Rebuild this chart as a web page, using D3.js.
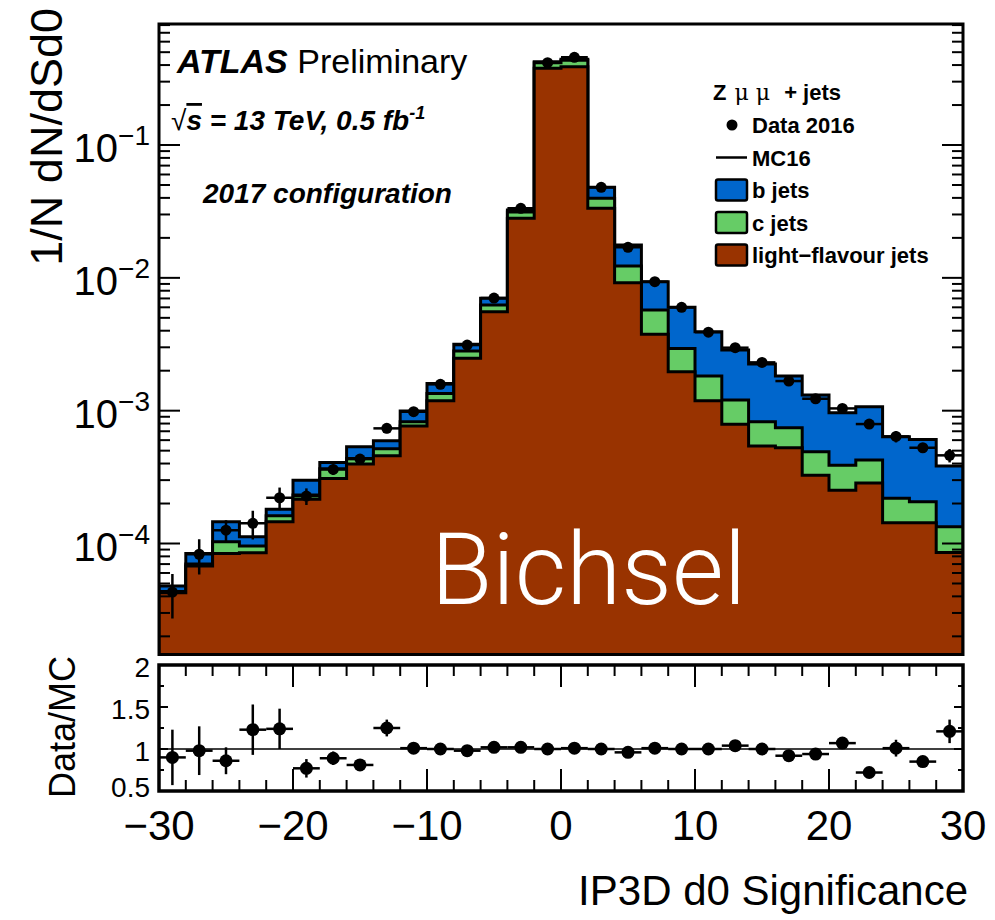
<!DOCTYPE html>
<html><head><meta charset="utf-8">
<script src="https://cdn.jsdelivr.net/npm/d3@7"></script>
<style>
body{margin:0;background:#fff}
svg{display:block}
text{font-family:"Liberation Sans",Arial,Helvetica,sans-serif;fill:#000}
</style>
</head><body>
<svg id="c" width="995" height="920"></svg>
<script>
// ---- data ----
const binLow = [-30,-28,-26,-24,-22,-20,-18,-16,-14,-12,-10,-8,-6,-4,-2,0,2,4,6,8,10,12,14,16,18,20,22,24,26,28];
const binWidth = 2;
const lightJets = [4.25e-5,6.76e-5,8.42e-5,8.51e-5,1.457e-4,2.15e-4,3.09e-4,3.96e-4,4.57e-4,7.66e-4,
  1.188e-3,2.477e-3,5.56e-3,2.81e-2,0.378,0.3887,3.34e-2,9.19e-3,3.77e-3,1.963e-3,
  1.188e-3,7.89e-4,5.41e-4,5.26e-4,3.27e-4,2.52e-4,2.86e-4,1.432e-4,1.432e-4,8.57e-5];
const cJets = [1.0e-6,2.4e-6,1.88e-5,1.05e-5,1.6e-5,1.64e-5,5.6e-5,4.1e-5,6.0e-5,5.9e-5,
  1.61e-4,3.33e-4,6.8e-4,3.2e-3,3.87e-2,4.68e-2,6.3e-3,3.08e-3,1.95e-3,9.77e-4,
  6.34e-4,4.13e-4,2.84e-4,2.17e-4,1.63e-4,1.37e-4,1.39e-4,7.58e-5,6.28e-5,4.79e-5];
const bJets = [4.3e-6,1.42e-5,4.26e-5,1.67e-5,1.9e-5,6.86e-5,4.3e-5,9.8e-5,7.6e-5,1.68e-4,
  2.55e-4,3.47e-4,7.7e-4,1.1e-3,6.9e-3,6.3e-3,8.3e-3,5.39e-3,3.63e-3,3.06e-3,
  2.108e-3,1.658e-3,1.42e-3,1.079e-3,8.21e-4,5.75e-4,6.45e-4,4.17e-4,4.02e-4,2.494e-4];
const data2016 = [4.31e-5,8.3e-5,1.26e-4,1.42e-4,2.21e-4,2.275e-4,3.61e-4,4.32e-4,7.36e-4,9.82e-4,
  1.578e-3,3.12e-3,7.05e-3,3.34e-2,0.4167,0.4575,4.8e-2,1.697e-2,9.35e-3,6.0e-3,
  3.9e-3,2.98e-3,2.31e-3,1.671e-3,1.23e-3,1.04e-3,7.93e-4,6.4e-4,5.26e-4,4.61e-4];
const ratioVals = [0.90,0.98,0.86,1.23,1.24,0.77,0.89,0.81,1.25,1.01,
  1.00,0.98,1.02,1.02,1.00,1.01,1.00,0.96,1.01,1.00,
  1.00,1.04,1.00,0.92,0.94,1.07,0.72,1.01,0.85,1.21];
const ratioErr = [0.33,0.29,0.16,0.30,0.24,0.11,0.08,0.06,0.10,0.05,
  0.04,0.03,0.02,0.02,0.02,0.02,0.02,0.02,0.02,0.02,
  0.03,0.06,0.03,0.03,0.03,0.06,0.05,0.10,0.06,0.14];
const xTickLabels = [-30,-20,-10,0,10,20,30];
const yDecadeLabels = [-1,-2,-3,-4];
const ratioTickLabels = ["0.5","1","1.5","2"];
const legendTitle = "Z";
const legendEntries = [
  {label:"Data 2016", kind:"marker"},
  {label:"MC16", kind:"line"},
  {label:"b jets", kind:"box", color:"#0066cc"},
  {label:"c jets", kind:"box", color:"#66cc66"},
  {label:"light\u2212flavour jets", kind:"box", color:"#993300"}
];

// ---- layout ----
const L = 159, R = 963, T = 24, B = 654.5, RT = 665, RB = 791;
const svg = d3.select("#c");
const x = d3.scaleLinear([-30,30],[L,R]);
const y = d3.scaleLog([1.46e-5,0.815],[B,T]);
const yr = d3.scaleLinear([0.5,2],[RB,RT]);

svg.append("defs").append("clipPath").attr("id","clipMain")
  .append("rect").attr("x",L).attr("y",T).attr("width",R-L).attr("height",B-T);

const main = svg.append("g").attr("clip-path","url(#clipMain)");

// stacked tops
const topLight = lightJets.slice();
const topC = lightJets.map((v,i)=>v+cJets[i]);
const topB = topC.map((v,i)=>v+bJets[i]);

function stepPts(vals){
  const pts=[];
  vals.forEach((v,i)=>{ pts.push([x(binLow[i]),y(v)]); pts.push([x(binLow[i]+binWidth),y(v)]); });
  return pts;
}
const area = d3.area().x(d=>d[0]).y0(B+20).y1(d=>d[1]);
const line = d3.line().x(d=>d[0]).y(d=>d[1]);
[[topB,"#0066cc"],[topC,"#66cc66"],[topLight,"#993300"]].forEach(([vals,col])=>{
  const pts = stepPts(vals);
  main.append("path").attr("d",area(pts)).attr("fill",col).attr("stroke","none");
  const full = [[pts[0][0],B+20]].concat(pts,[[pts[pts.length-1][0],B+20]]);
  main.append("path").attr("d",line(full)).attr("fill","none").attr("stroke","#000").attr("stroke-width",3).attr("stroke-linejoin","miter");
});

// watermark
svg.append("text").attr("x",431).attr("y",604).text("Bichsel")
  .style("font-family","Roboto, Lato, 'Open Sans', sans-serif").style("font-weight",300)
  .style("font-size","100px").style("fill","#fff");

// data points main
const dg = svg.append("g").attr("clip-path","url(#clipMain)");
data2016.forEach((v,i)=>{
  const cx = x(binLow[i]+binWidth/2);
  const rel = ratioErr[i]/ratioVals[i];
  dg.append("line").attr("x1",x(binLow[i])).attr("x2",x(binLow[i]+binWidth)).attr("y1",y(v)).attr("y2",y(v)).attr("stroke","#000").attr("stroke-width",2.5);
  dg.append("line").attr("x1",cx).attr("x2",cx).attr("y1",y(v*(1+rel))).attr("y2",y(Math.max(v*(1-rel),1e-6))).attr("stroke","#000").attr("stroke-width",2.5);
  dg.append("circle").attr("cx",cx).attr("cy",y(v)).attr("r",5.5).attr("fill","#000");
});

// main frame
svg.append("rect").attr("x",L).attr("y",T).attr("width",R-L).attr("height",B-T).attr("fill","none").attr("stroke","#000").attr("stroke-width",3);

// main y ticks
const ticksG = svg.append("g").attr("stroke","#000").attr("stroke-width",2);
for(let e=-5;e<=0;e++){
  for(let m=1;m<=9;m++){
    const v=m*Math.pow(10,e);
    if(v<1.46e-5||v>0.815) continue;
    const len = m===1?21:11;
    ticksG.append("line").attr("x1",L).attr("x2",L+len).attr("y1",y(v)).attr("y2",y(v));
    ticksG.append("line").attr("x1",R).attr("x2",R-len).attr("y1",y(v)).attr("y2",y(v));
  }
}
yDecadeLabels.forEach(e=>{
  const t = svg.append("text").attr("x",150).attr("y",y(Math.pow(10,e))+17).attr("text-anchor","end").style("font-size","40px");
  t.append("tspan").text("10");
  t.append("tspan").attr("dy",-17).style("font-size","28px").text("\u2212"+Math.abs(e));
});

// y title
svg.append("text").attr("transform","translate(62,8) rotate(-90)").attr("text-anchor","end")
  .style("font-size","45px").text("1/N dN/dSd0");

// ATLAS labels
const atl = svg.append("text").attr("x",177).attr("y",73).style("font-size","34px");
atl.append("tspan").style("font-weight","bold").style("font-style","italic").text("ATLAS");
atl.append("tspan").text(" Preliminary");
const sq = svg.append("text").attr("x",171).attr("y",130).style("font-size","28px").style("font-weight","bold").style("font-style","italic");
sq.append("tspan").style("font-style","normal").style("font-weight","normal").text("\u221A");
sq.append("tspan").style("text-decoration","overline").text("s");
sq.append("tspan").text(" = 13 TeV, 0.5 fb");
sq.append("tspan").attr("dy",-11).style("font-size","18px").text("-1");
svg.append("text").attr("x",203).attr("y",203).style("font-size","28px").style("font-weight","bold").style("font-style","italic").text("2017 configuration");

// legend
const lg = svg.append("g");
const lt = lg.append("text").attr("x",713).attr("y",100).style("font-size","22px").style("font-weight","bold");
lt.append("tspan").text(legendTitle);
lt.append("tspan").style("font-weight","normal").style("font-family","'DejaVu Serif', serif").attr("dx",8).text("\u03BC \u03BC");
lt.append("tspan").attr("dx",8).text(" + jets");
legendEntries.forEach((e,i)=>{
  const cy = 125 + i*32.5;
  if(e.kind==="marker"){
    lg.append("circle").attr("cx",732).attr("cy",cy).attr("r",5.5).attr("fill","#000");
  } else if(e.kind==="line"){
    lg.append("line").attr("x1",716).attr("x2",747).attr("y1",cy).attr("y2",cy).attr("stroke","#000").attr("stroke-width",2.5);
  } else {
    lg.append("rect").attr("x",716).attr("y",cy-10.5).attr("width",31).attr("height",21).attr("rx",2)
      .attr("fill",e.color).attr("stroke","#000").attr("stroke-width",2.5);
  }
  lg.append("text").attr("x",752).attr("y",cy+8).style("font-size","22px").style("font-weight","bold").text(e.label);
});

// ---- ratio panel ----
svg.append("line").attr("x1",L).attr("x2",R).attr("y1",yr(1)).attr("y2",yr(1)).attr("stroke","#000").attr("stroke-width",1.5);
const rg = svg.append("g");
ratioVals.forEach((v,i)=>{
  const cx = x(binLow[i]+binWidth/2);
  rg.append("line").attr("x1",x(binLow[i])).attr("x2",x(binLow[i]+binWidth)).attr("y1",yr(v)).attr("y2",yr(v)).attr("stroke","#000").attr("stroke-width",2.5);
  rg.append("line").attr("x1",cx).attr("x2",cx).attr("y1",yr(Math.min(v+ratioErr[i],2))).attr("y2",yr(Math.max(v-ratioErr[i],0.5))).attr("stroke","#000").attr("stroke-width",2.5);
  rg.append("circle").attr("cx",cx).attr("cy",yr(v)).attr("r",6.5).attr("fill","#000");
});
svg.append("rect").attr("x",L).attr("y",RT).attr("width",R-L).attr("height",RB-RT).attr("fill","none").attr("stroke","#000").attr("stroke-width",3.5);
const rt = svg.append("g").attr("stroke","#000").attr("stroke-width",2);
for(let v=-30; v<=30; v+=2){
  const len = (v%10===0)?22:11;
  rt.append("line").attr("x1",x(v)).attr("x2",x(v)).attr("y1",RT).attr("y2",RT+len);
  rt.append("line").attr("x1",x(v)).attr("x2",x(v)).attr("y1",RB).attr("y2",RB-len);
}
for(let v=0.5; v<=2.001; v+=0.25){
  const len = (Math.abs(v*2-Math.round(v*2))<1e-6)?9:5;
  rt.append("line").attr("x1",L).attr("x2",L+len).attr("y1",yr(v)).attr("y2",yr(v));
  rt.append("line").attr("x1",R).attr("x2",R-len).attr("y1",yr(v)).attr("y2",yr(v));
}
ratioTickLabels.forEach(s=>{
  const off = s==="0.5" ? 6 : 12;
  svg.append("text").attr("x",150).attr("y",yr(+s)+off).attr("text-anchor","end").style("font-size","28px").text(s);
});
svg.append("text").attr("transform","translate(75,727) rotate(-90)").attr("text-anchor","middle")
  .style("font-size","36px").text("Data/MC");
xTickLabels.forEach(v=>{
  svg.append("text").attr("x",x(v)).attr("y",840).attr("text-anchor","middle").style("font-size","42px")
    .text(v<0?"\u2212"+Math.abs(v):String(v));
});
svg.append("text").attr("x",968).attr("y",905).attr("text-anchor","end").style("font-size","42px").text("IP3D d0 Significance");
</script>
</body></html>
